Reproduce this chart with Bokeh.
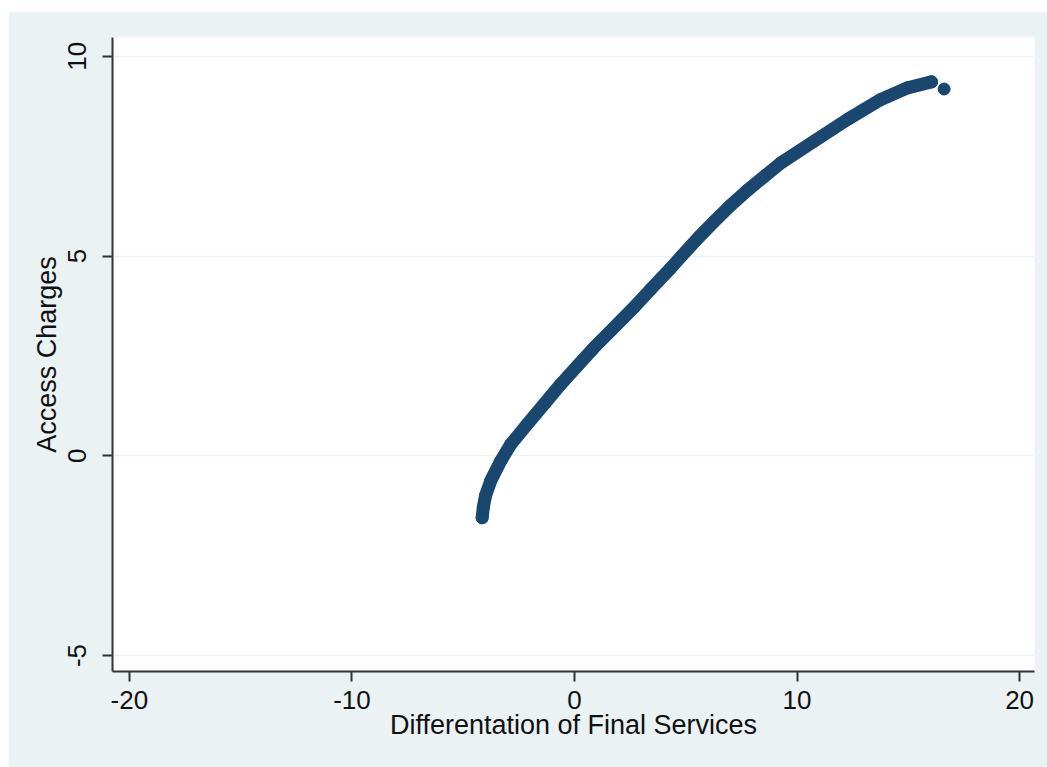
from bokeh.plotting import figure
from bokeh.models import Range1d, FixedTicker
from bokeh.embed import file_html
from bokeh.resources import INLINE

# Data
curve_x = [-4.15, -4.10, -4.00, -3.76, -3.31, -2.86, -2.11, -1.37, -0.62,
           0.13, 0.88, 1.63, 2.68, 3.43, 4.30, 4.81, 5.60, 6.27, 7.00, 7.78,
           9.27, 10.77, 12.27, 13.77, 14.97, 16.04]
curve_y = [-1.55, -1.30, -1.00, -0.62, -0.125, 0.29, 0.80, 1.29, 1.79,
           2.25, 2.71, 3.13, 3.72, 4.17, 4.68, 5.00, 5.48, 5.86, 6.26, 6.65,
           7.33, 7.875, 8.42, 8.92, 9.21, 9.36]
last_x = [16.61]
last_y = [9.18]

x_ticks = [-20, -10, 0, 10, 20]
x_tick_labels = ["-20", "-10", "0", "10", "20"]
y_ticks = [-5, 0, 5, 10]
y_tick_labels = ["-5", "0", "5", "10"]

x_title = "Differentation of Final Services"
y_title = "Access Charges"

NAVY = "#1A476F"
BG = "#EAF2F3"
FONT = "Liberation Sans"

p = figure(width=1039, height=756, output_backend="svg", toolbar_location=None,
           x_range=Range1d(-20.76, 20.67), y_range=Range1d(-5.40, 10.47),
           min_border_left=104, min_border_right=13, min_border_top=26,
           min_border_bottom=96)
p.margin = (11, 0, 0, 8)
p.border_fill_color = BG
p.background_fill_color = "white"
p.outline_line_color = None

p.line(curve_x, curve_y, line_color=NAVY, line_width=13,
       line_cap="round", line_join="round")
p.scatter(curve_x, curve_y, size=12, fill_color=NAVY, line_color=NAVY)
p.scatter(last_x, last_y, size=12, fill_color=NAVY, line_color=NAVY)

p.xgrid.visible = False
p.ygrid.grid_line_color = BG
p.ygrid.grid_line_width = 1.5
p.ygrid.ticker = FixedTicker(ticks=y_ticks)

for ax in (p.xaxis[0], p.yaxis[0]):
    ax.axis_line_color = "#333333"
    ax.axis_line_width = 2
    ax.major_tick_line_color = "#333333"
    ax.major_tick_line_width = 2
    ax.major_tick_out = 10
    ax.major_tick_in = 0
    ax.minor_tick_line_color = None
    ax.major_label_text_font = FONT
    ax.major_label_text_font_size = "26px"
    ax.major_label_text_color = "#111111"
    ax.axis_label_text_font = FONT
    ax.axis_label_text_font_size = "27px"
    ax.axis_label_text_font_style = "normal"
    ax.axis_label_text_color = "#111111"

p.xaxis.ticker = FixedTicker(ticks=x_ticks)
p.yaxis.ticker = FixedTicker(ticks=y_ticks)
p.xaxis.major_label_overrides = dict(zip(x_ticks, x_tick_labels))
p.yaxis.major_label_overrides = dict(zip(y_ticks, y_tick_labels))
p.xaxis.axis_label = x_title
p.yaxis.axis_label = y_title
p.yaxis.major_label_orientation = "vertical"
p.xaxis.major_label_standoff = 9
p.xaxis.axis_label_standoff = -2
p.yaxis.major_label_standoff = 16
p.yaxis.axis_label_standoff = 4

open("out.html", "w").write(file_html(p, INLINE))
